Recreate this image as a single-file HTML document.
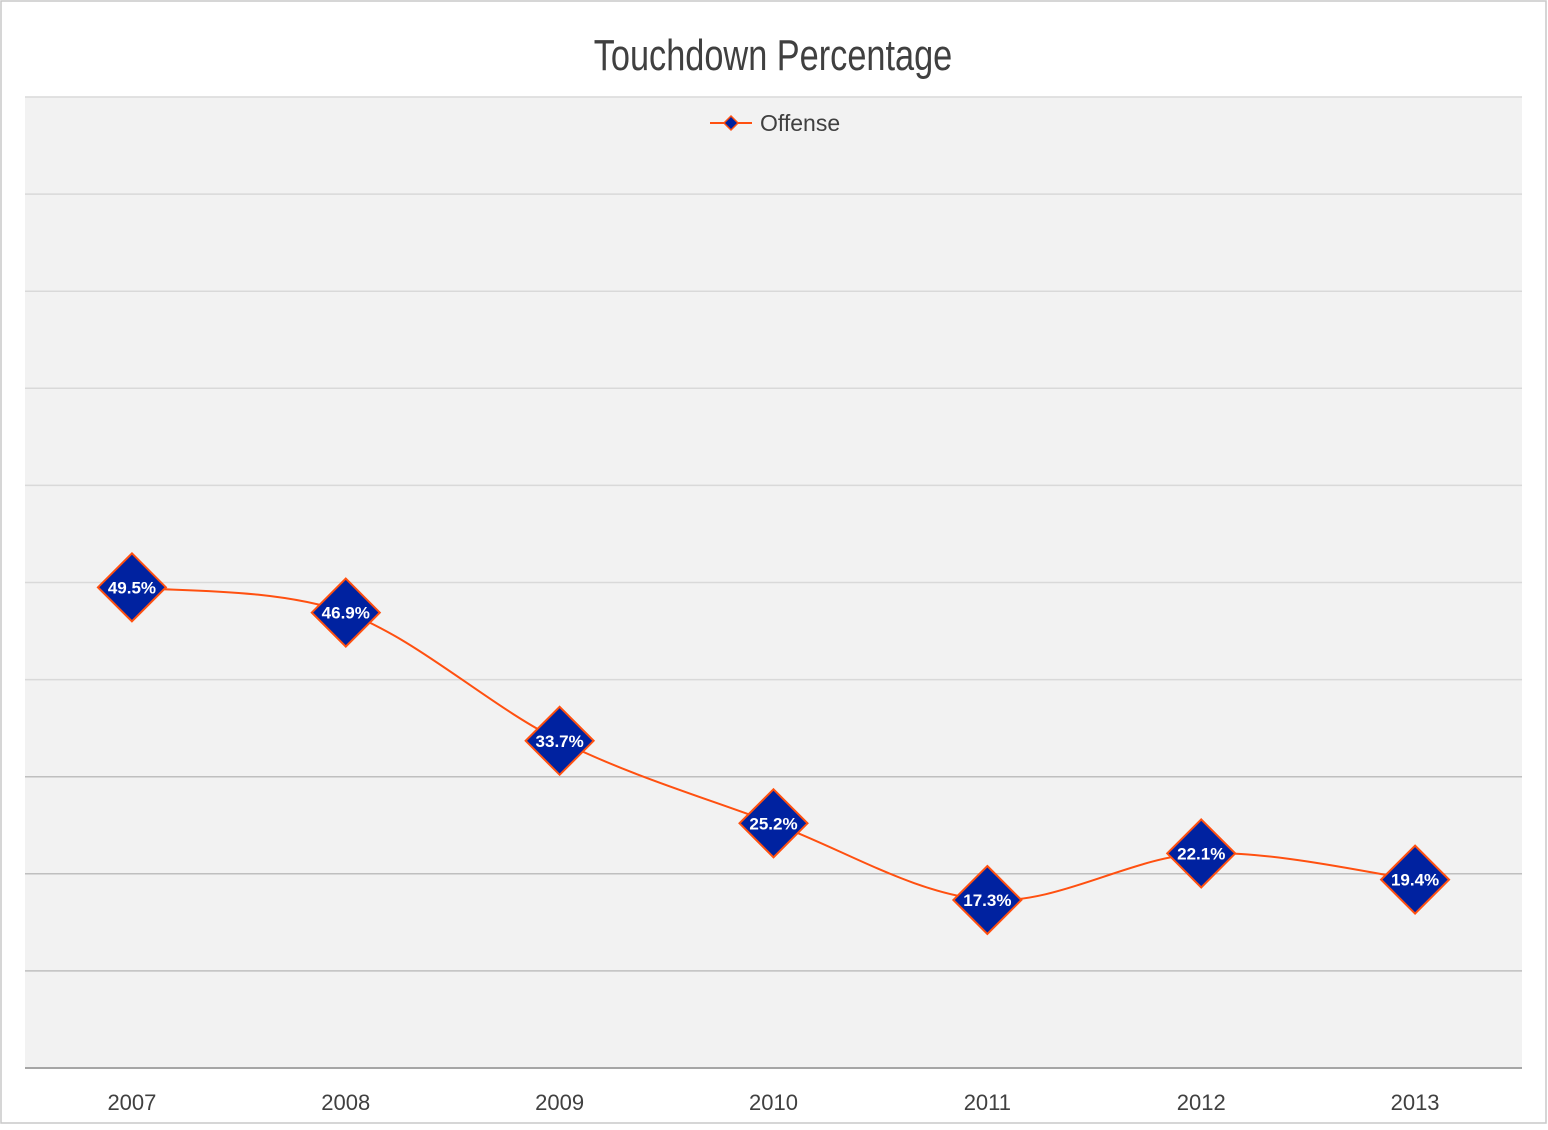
<!DOCTYPE html>
<html><head><meta charset="utf-8">
<style>
html,body{margin:0;padding:0;background:#fff;}
body{width:1548px;height:1125px;overflow:hidden;font-family:"Liberation Sans",sans-serif;}
</style></head>
<body>
<svg id="chart" width="1548" height="1125" xmlns="http://www.w3.org/2000/svg">
  <rect x="1" y="1" width="1545" height="1122" fill="#fff" stroke="#c8c8c8" stroke-width="1.5"/>
  <rect x="25" y="97" width="1497" height="971" fill="#f2f2f2"/>
  <g id="grid"></g>
  <text x="773" y="70" text-anchor="middle" font-size="44" fill="#404040" transform="translate(773 0) scale(0.78 1) translate(-773 0)">Touchdown  Percentage</text>
  <g>
    <line x1="710" y1="123" x2="752" y2="123" stroke="#ff5010" stroke-width="2"/>
    <path d="M731 116 L738 123 L731 130 L724 123 Z" fill="#0022a0" stroke="#ff5010" stroke-width="1.5"/>
    <text x="760" y="131" font-size="23" fill="#404040">Offense</text>
  </g>
  <g id="xlabels"></g>
  <path id="line" fill="none" stroke="#ff5010" stroke-width="2"/>
  <g id="marks"></g>
</svg>
<script>
const categories = ["2007","2008","2009","2010","2011","2012","2013"];
const offenseValues = [49.5, 46.9, 33.7, 25.2, 17.3, 22.1, 19.4];
const offenseLabels = ["49.5%","46.9%","33.7%","25.2%","17.3%","22.1%","19.4%"];
const yTicks = [0,10,20,30,40,50,60,70,80,90,100];

const NS = "http://www.w3.org/2000/svg";
const plotLeft = 25, plotRight = 1522, plotTop = 97, plotBottom = 1068, yMax = 100;
const step = (plotRight - plotLeft) / categories.length;
function xPos(i){ return plotLeft + step * (i + 0.5); }
function yPos(v){ return plotBottom - (v / yMax) * (plotBottom - plotTop); }

const grid = document.getElementById('grid');
yTicks.forEach(t => {
  const l = document.createElementNS(NS,'line');
  
  
  const y = yPos(t);
  l.setAttribute('x1', plotLeft); l.setAttribute('x2', plotRight);
  l.setAttribute('y1', y); l.setAttribute('y2', y);
  const shade = t === 0 ? '#a6a6a6' : (t <= 30 ? '#bfbfbf' : '#d9d9d9');
  l.setAttribute('stroke', shade);
  l.setAttribute('stroke-width', t === 0 ? 2 : 1.5);
  grid.appendChild(l);
});

const xl = document.getElementById('xlabels');
categories.forEach((c,i) => {
  const t = document.createElementNS(NS,'text');
  
  
  t.setAttribute('x', xPos(i)); t.setAttribute('y', 1110);
  t.setAttribute('text-anchor','middle'); t.setAttribute('font-size','22'); t.setAttribute('fill','#404040');
  t.textContent = c;
  xl.appendChild(t);
});

const pts = offenseValues.map((v,i) => [xPos(i), yPos(v)]);
let d = `M${pts[0][0]} ${pts[0][1]}`;
for (let i = 0; i < pts.length - 1; i++) {
  const p0 = pts[i-1] || pts[i], p1 = pts[i], p2 = pts[i+1], p3 = pts[i+2] || pts[i+1];
  const k = 1/6;
  const c1 = [p1[0] + (p2[0]-p0[0])*k, p1[1] + (p2[1]-p0[1])*k];
  const c2 = [p2[0] - (p3[0]-p1[0])*k, p2[1] - (p3[1]-p1[1])*k];
  d += ` C${c1[0]} ${c1[1]} ${c2[0]} ${c2[1]} ${p2[0]} ${p2[1]}`;
}
document.getElementById('line').setAttribute('d', d);

const marks = document.getElementById('marks');
pts.forEach((p,i) => {
  const g = document.createElementNS(NS,'g');
  
  
  const r = 34;
  const m = document.createElementNS(NS,'path');
  m.setAttribute('d', `M${p[0]} ${p[1]-r} L${p[0]+r} ${p[1]} L${p[0]} ${p[1]+r} L${p[0]-r} ${p[1]} Z`);
  m.setAttribute('fill', '#0022a0'); m.setAttribute('stroke', '#ff5010'); m.setAttribute('stroke-width', '2');
  g.appendChild(m);
  const t = document.createElementNS(NS,'text');
  
  
  t.setAttribute('x', p[0]); t.setAttribute('y', p[1] + 6);
  t.setAttribute('text-anchor','middle'); t.setAttribute('font-size','17'); t.setAttribute('font-weight','bold'); t.setAttribute('fill','#fff');
  t.textContent = offenseLabels[i];
  g.appendChild(t);
  marks.appendChild(g);
});
</script>
</body></html>
